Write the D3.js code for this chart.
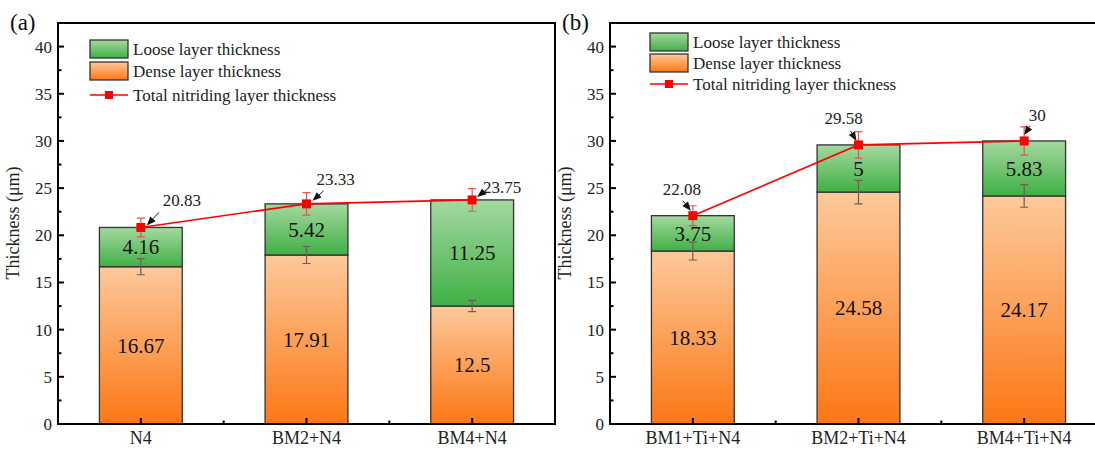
<!DOCTYPE html>
<html>
<head>
<meta charset="utf-8">
<script src="https://cdn.jsdelivr.net/npm/d3@7"></script>
<style>
  body { margin: 0; background: #fff; }
  svg text { font-family: "Liberation Serif", "Times New Roman", serif; }
</style>
</head>
<body>
<svg id="chart" width="1095" height="454"></svg>
<script>
// data
const groupsA = ["N4", "BM2+N4", "BM4+N4"];
const denseA = [16.67, 17.91, 12.5];
const looseA = [4.16, 5.42, 11.25];
const totalA = [20.83, 23.33, 23.75];
const denseErrA = [0.85, 0.9, 0.6];
const totalErrA = [1.0, 1.2, 1.2];

const groupsB = ["BM1+Ti+N4", "BM2+Ti+N4", "BM4+Ti+N4"];
const denseB = [18.33, 24.58, 24.17];
const looseB = [3.75, 5, 5.83];
const totalB = [22.08, 29.58, 30];
const denseErrB = [0.95, 1.25, 1.2];
const totalErrB = [1.05, 1.4, 1.5];

const yTicks = [0, 5, 10, 15, 20, 25, 30, 35, 40];
const yMax = 42.5;
const legendLabels = ["Loose layer thickness", "Dense layer thickness", "Total nitriding layer thickness"];

const svg = d3.select("#chart");
const defs = svg.append("defs");

function grad(id, top, bottom) {
    let g = defs.append("linearGradient").attr("id", id)
        .attr("x1", 0).attr("y1", 0).attr("x2", 0).attr("y2", 1);
    g.append("stop").attr("offset", "0%").attr("stop-color", top);
    g.append("stop").attr("offset", "100%").attr("stop-color", bottom);
}
grad("gGreen", "#a4d9a0", "#40b044");
grad("gOrange", "#fdc99b", "#fc7714");

function drawPanel(p) {
    let g = svg.append("g");
    let x = d3.scaleBand().domain(p.groups).range([p.left, p.right])
        .paddingInner(0.5).paddingOuter(0.25);
    let y = d3.scaleLinear().domain([0, yMax]).range([424, 23]);
    let bw = x.bandwidth();
    let cx = d => x(d) + bw / 2;

    // bars
    p.groups.forEach((d, i) => {
        g.append("rect").attr("x", x(d)).attr("width", bw)
            .attr("y", y(p.dense[i])).attr("height", y(0) - y(p.dense[i]))
            .attr("fill", "url(#gOrange)").attr("stroke", "#333").attr("stroke-width", 1.3);
        let top = p.dense[i] + p.loose[i];
        g.append("rect").attr("x", x(d)).attr("width", bw)
            .attr("y", y(top)).attr("height", y(p.dense[i]) - y(top))
            .attr("fill", "url(#gGreen)").attr("stroke", "#333").attr("stroke-width", 1.3);

        g.append("text").attr("x", cx(d)).attr("y", y(p.dense[i] / 2)).attr("dy", "0.35em")
            .attr("text-anchor", "middle").attr("font-size", 21).attr("fill", "#111")
            .text(p.dense[i]);
        g.append("text").attr("x", cx(d)).attr("y", y(p.dense[i] + p.loose[i] / 2)).attr("dy", "0.35em")
            .attr("text-anchor", "middle").attr("font-size", 21).attr("fill", "#111")
            .text(p.loose[i]);
    });

    // error bars
    function errBar(xc, v, e, color, w) {
        g.append("path")
            .attr("d", `M${xc},${y(v - e)}V${y(v + e)}M${xc - 4},${y(v - e)}H${xc + 4}M${xc - 4},${y(v + e)}H${xc + 4}`)
            .attr("stroke", color).attr("stroke-width", w).attr("fill", "none");
    }
    p.groups.forEach((d, i) => errBar(cx(d), p.dense[i], p.denseErr[i], "#6a5f58", 1.2));
    p.groups.forEach((d, i) => errBar(cx(d), p.total[i], p.totalErr[i], "#f05050", 1.2));

    // total line
    let line = d3.line().x((v, i) => cx(p.groups[i])).y(v => y(v));
    g.append("path").attr("d", line(p.total)).attr("fill", "none")
        .attr("stroke", "#ff0000").attr("stroke-width", 1.6);
    g.selectAll(null).data(p.total).enter().append("rect")
        .attr("x", (v, i) => cx(p.groups[i]) - 4.5).attr("y", v => y(v) - 4.5)
        .attr("width", 9).attr("height", 9).attr("fill", "#ff0000");

    // annotations with arrows
    p.total.forEach((v, i) => {
        let px = cx(p.groups[i]), py = y(v), a = p.ann[i];
        g.append("text").attr("x", px + a.lx).attr("y", py + a.ly).attr("dy", "0.35em")
            .attr("text-anchor", "middle").attr("font-size", 17).attr("fill", "#222").text(v);
        let x1 = px + a.tx, y1 = py + a.ty, x2 = px + a.hx, y2 = py + a.hy;
        let ang = Math.atan2(y2 - y1, x2 - x1);
        let L = 9, W = 3.6;
        let bx = x2 - L * Math.cos(ang), by = y2 - L * Math.sin(ang);
        g.append("line").attr("x1", x1).attr("y1", y1).attr("x2", bx).attr("y2", by)
            .attr("stroke", "#111").attr("stroke-width", 1);
        g.append("path")
            .attr("d", `M${x2},${y2}L${bx + W * Math.sin(ang)},${by - W * Math.cos(ang)}L${bx - W * Math.sin(ang)},${by + W * Math.cos(ang)}Z`)
            .attr("fill", "#111");
    });

    // ticks (inward)
    let ticks = g.append("g").attr("stroke", "#000").attr("stroke-width", 2);
    yTicks.forEach(t => {
        ticks.append("line").attr("x1", p.left).attr("x2", p.left + 6).attr("y1", y(t)).attr("y2", y(t));
        if (t + 2.5 < yMax)
            ticks.append("line").attr("x1", p.left).attr("x2", p.left + 3.5).attr("y1", y(t + 2.5)).attr("y2", y(t + 2.5));
    });
    p.groups.forEach((d, i) => {
        ticks.append("line").attr("x1", cx(d)).attr("x2", cx(d)).attr("y1", y(0)).attr("y2", y(0) - 6);
        if (i > 0) {
            let mid = (cx(p.groups[i - 1]) + cx(d)) / 2;
            ticks.append("line").attr("x1", mid).attr("x2", mid).attr("y1", y(0)).attr("y2", y(0) - 3.5);
        }
    });

    // frame
    g.append("rect").attr("x", p.left).attr("y", 23).attr("width", p.right - p.left).attr("height", y(0) - 23)
        .attr("fill", "none").attr("stroke", "#000").attr("stroke-width", 2);

    // tick labels
    g.selectAll(null).data(yTicks).enter().append("text")
        .attr("x", p.left - 6).attr("y", t => y(t)).attr("dy", "0.35em")
        .attr("text-anchor", "end").attr("font-size", 17).attr("fill", "#222").text(t => t);
    g.selectAll(null).data(p.groups).enter().append("text")
        .attr("x", d => cx(d)).attr("y", 444)
        .attr("text-anchor", "middle").attr("font-size", 18).attr("fill", "#222").text(d => d);

    g.append("text").attr("transform", `translate(${p.left - 39},223) rotate(-90)`)
        .attr("text-anchor", "middle").attr("font-size", 18).attr("fill", "#222").text("Thickness (μm)");
    g.append("text").attr("x", p.left - 48).attr("y", 30).attr("font-size", 23).attr("fill", "#111").text(p.tag);

    // legend
    let lg = g.append("g").attr("transform", `translate(${p.left + p.legX},${p.legY})`);
    let lineY = p.legStep * 2 + 9 + p.lineExtra;
    lg.append("rect").attr("x", 0).attr("y", 0).attr("width", 38).attr("height", 18)
        .attr("fill", "url(#gGreen)").attr("stroke", "#333").attr("stroke-width", 1.3);
    lg.append("rect").attr("x", 0).attr("y", p.legStep).attr("width", 38).attr("height", 18)
        .attr("fill", "url(#gOrange)").attr("stroke", "#333").attr("stroke-width", 1.3);
    lg.append("line").attr("x1", 0).attr("x2", 38).attr("y1", lineY).attr("y2", lineY)
        .attr("stroke", "#ff0000").attr("stroke-width", 1.6);
    lg.append("rect").attr("x", 15).attr("y", lineY - 4).attr("width", 8).attr("height", 8).attr("fill", "#ff0000");
    legendLabels.forEach((t, i) => {
        lg.append("text").attr("x", 43).attr("y", i < 2 ? i * p.legStep + 9 : lineY).attr("dy", "0.35em")
            .attr("font-size", 17).attr("fill", "#222").text(t);
    });
}

drawPanel({
    tag: "(a)", left: 58, right: 555, legX: 32, legY: 40, legStep: 22, lineExtra: 2,
    groups: groupsA, dense: denseA, loose: looseA, total: totalA,
    denseErr: denseErrA, totalErr: totalErrA,
    ann: [
        {lx: 41, ly: -27, tx: 18, ty: -15, hx: 6, hy: -2},
        {lx: 29, ly: -25, tx: 17, ty: -13, hx: 6, hy: -3},
        {lx: 30, ly: -13, tx: 14, ty: -10, hx: 5, hy: -3}
    ]
});
drawPanel({
    tag: "(b)", left: 610, right: 1107, legX: 40, legY: 33, legStep: 21, lineExtra: 0,
    groups: groupsB, dense: denseB, loose: looseB, total: totalB,
    denseErr: denseErrB, totalErr: totalErrB,
    ann: [
        {lx: -11, ly: -27, tx: -10, ty: -15, hx: -2, hy: -5},
        {lx: -15, ly: -27, tx: -8, ty: -14, hx: -2, hy: -4},
        {lx: 13, ly: -26, tx: 6, ty: -15, hx: 0, hy: -6}
    ]
});
</script>
</body>
</html>
